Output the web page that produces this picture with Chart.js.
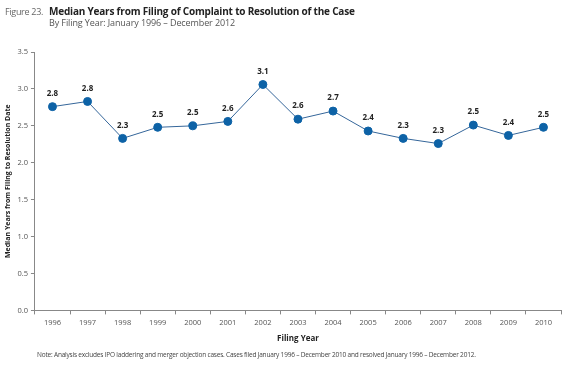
<!DOCTYPE html>
<html>
<head>
<meta charset="utf-8">
<script src="https://cdn.jsdelivr.net/npm/chart.js@4/dist/chart.umd.min.js"></script>
<style>
  body { margin: 0; background: #fff; font-family: "Open Sans", sans-serif; }
  #wrap { position: relative; width: 569px; height: 367px; }
  #chart { position: absolute; left: 0; top: 0; }
  .txt { position: absolute; white-space: nowrap; }
</style>
</head>
<body>
<div id="wrap">
  <canvas id="chart" width="569" height="367"></canvas>
  <div class="txt" style="left:5px; top:5px; font-size:9px; color:#666; letter-spacing:-0.3px;">Figure 23.</div>
  <div class="txt" style="left:49px; top:4px; font-size:10px; font-weight:bold; color:#222; letter-spacing:-0.2px;">Median Years from Filing of Complaint to Resolution of the Case</div>
  <div class="txt" style="left:49px; top:16px; font-size:9px; color:#555; letter-spacing:-0.1px;">By Filing Year: January 1996 – December 2012</div>
  <div class="txt" style="left:37px; top:350px; font-size:6.5px; color:#444; letter-spacing:-0.2px;">Note: Analysis excludes IPO laddering and merger objection cases. Cases filed January 1996 – December 2010 and resolved January 1996 – December 2012.</div>
</div>
<script>
var years = ['1996','1997','1998','1999','2000','2001','2002','2003','2004','2005','2006','2007','2008','2009','2010'];
var medianYears = [2.76, 2.83, 2.33, 2.48, 2.50, 2.56, 3.06, 2.59, 2.70, 2.43, 2.33, 2.26, 2.51, 2.37, 2.48];

// draws the value above each point
var valueLabels = {
  id: 'valueLabels',
  afterDatasetsDraw: function(chart) {
    var ctx = chart.ctx;
    var meta = chart.getDatasetMeta(0);
    ctx.save();
    ctx.font = 'bold 8px "Open Sans"';
    ctx.fillStyle = '#222';
    ctx.textAlign = 'center';
    ctx.textBaseline = 'bottom';
    meta.data.forEach(function(pt, i) {
      ctx.fillText(medianYears[i].toFixed(1), pt.x, pt.y - 9);
    });
    ctx.restore();
  }
};

new Chart(document.getElementById('chart').getContext('2d'), {
  type: 'line',
  data: {
    labels: years,
    datasets: [{
      data: medianYears,
      borderColor: '#35669a',
      borderWidth: 1,
      pointBackgroundColor: '#0d62a6',
      pointBorderColor: '#0d62a6',
      pointRadius: 4,
      tension: 0,
      fill: false
    }]
  },
  options: {
    responsive: false,
    animation: false,
    layout: { padding: { top: 52, left: 2, right: 8, bottom: 19 } },
    plugins: {
      legend: { display: false },
      tooltip: { enabled: false }
    },
    scales: {
      x: {
        offset: true,
        grid: { offset: true, drawOnChartArea: false, drawTicks: true, tickLength: 4, color: '#888' },
        border: { color: '#888' },
        ticks: { font: { size: 7.5, family: 'Open Sans' }, color: '#555', padding: 4 },
        title: { display: true, text: 'Filing Year', font: { size: 8, weight: 'bold', family: 'Open Sans' }, color: '#222', padding: { top: 3 } }
      },
      y: {
        min: 0,
        max: 3.5,
        ticks: {
          stepSize: 0.5,
          font: { size: 7.5, family: 'Open Sans' },
          color: '#555',
          padding: 3,
          callback: function(v) { return v.toFixed(1); }
        },
        grid: { drawOnChartArea: false, drawTicks: true, tickLength: 4, color: '#888' },
        border: { color: '#888' },
        title: { display: true, text: 'Median Years from Filing to Resolution Date', font: { size: 7, weight: 'bold', family: 'Open Sans' }, color: '#222', padding: 2 }
      }
    }
  },
  plugins: [valueLabels]
});
</script>
</body>
</html>
